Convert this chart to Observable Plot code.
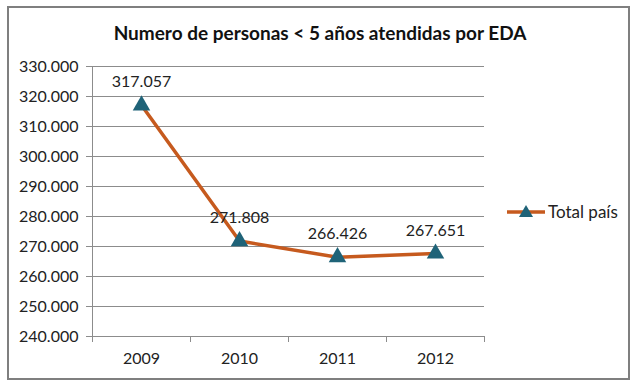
<!DOCTYPE html>
<html>
<head>
<meta charset="utf-8">
<script src="https://cdn.jsdelivr.net/npm/d3@7"></script>
<script src="https://cdn.jsdelivr.net/npm/@observablehq/plot@0.6"></script>
<style>
  html, body { margin: 0; padding: 0; background: #fff; }
  #wrap { position: relative; width: 640px; height: 388px; overflow: hidden; font-family: Lato, "Open Sans", sans-serif; }
  #frame { position: absolute; left: 7px; top: 6px; width: 619px; height: 370px; border: 2px solid #7f7f7f; box-sizing: content-box; }
  #title { position: absolute; left: 0; width: 640px; top: 21px; text-align: center; font-weight: bold; font-size: 19px; color: #111; }
  #chart { position: absolute; left: 0; top: 0; }
  #legend { position: absolute; left: 507px; top: 201px; display: flex; align-items: center; font-size: 17px; color: #222; }
</style>
</head>
<body>
<div id="wrap">
  <div id="frame"></div>
  <div id="chart"></div>
  <div id="title"></div>
  <div id="legend"></div>
</div>
<script>
const titleText = "Numero de personas < 5 años atendidas por EDA";
const seriesName = "Total país";
const years = [2009, 2010, 2011, 2012];
const values = [317057, 271808, 266426, 267651];
const yTicks = [240000, 250000, 260000, 270000, 280000, 290000, 300000, 310000, 320000, 330000];

const lineColor = "#C65A1E";
const markerColor = "#1F6378";
const gridColor = "#8c8c8c";

const fmt = d3.formatLocale({decimal: ",", thousands: ".", grouping: [3], currency: ["", ""]}).format(",.0f");

const data = years.map((year, i) => ({year, value: values[i]}));
const bounds = [years[0] - 0.5, ...years.map(y => y + 0.5)];

const chart = Plot.plot({
  width: 640,
  height: 388,
  marginLeft: 92,
  marginRight: 156,
  marginTop: 66,
  marginBottom: 52,
  style: {fontFamily: "Lato, 'Open Sans', sans-serif", fontSize: "16px", color: "#222", background: "transparent", overflow: "visible"},
  x: {domain: [bounds[0], bounds[bounds.length - 1]]},
  y: {domain: [yTicks[0], yTicks[yTicks.length - 1]]},
  marks: [
    Plot.gridY(yTicks, {stroke: gridColor, strokeOpacity: 1, strokeWidth: 1}),
    Plot.ruleX([bounds[0]], {stroke: gridColor, strokeWidth: 1, insetBottom: -6}),
    Plot.axisY(yTicks, {tickSize: 6, tickPadding: 8, tickFormat: fmt, stroke: gridColor, label: null, fontSize: 16}),
    Plot.axisX(bounds, {tickSize: 6, tickFormat: () => "", stroke: gridColor, label: null}),
    Plot.axisX(years, {tickSize: 0, tickPadding: 16, tickFormat: d => String(d), label: null, fontSize: 16}),
    Plot.line(data, {x: "year", y: "value", stroke: lineColor, strokeWidth: 3.5}),
    Plot.dot(data, {x: "year", y: "value", symbol: "triangle", fill: markerColor, stroke: "none", r: 6.5}),
    Plot.text(data, {x: "year", y: "value", text: d => fmt(d.value), dy: -23, fontSize: 16, fill: "#222"})
  ]
});
document.getElementById("chart").appendChild(chart);
document.getElementById("title").textContent = titleText;

const legend = document.getElementById("legend");
legend.innerHTML =
  `<svg width="38" height="20" style="margin-right:3px"><line x1="0" x2="38" y1="10" y2="10" stroke="${lineColor}" stroke-width="3.5"></line>` +
  `<path d="M19,3 L26,15 L12,15 Z" fill="${markerColor}"></path></svg><span></span>`;
legend.querySelector("span").textContent = seriesName;
</script>
</body>
</html>
